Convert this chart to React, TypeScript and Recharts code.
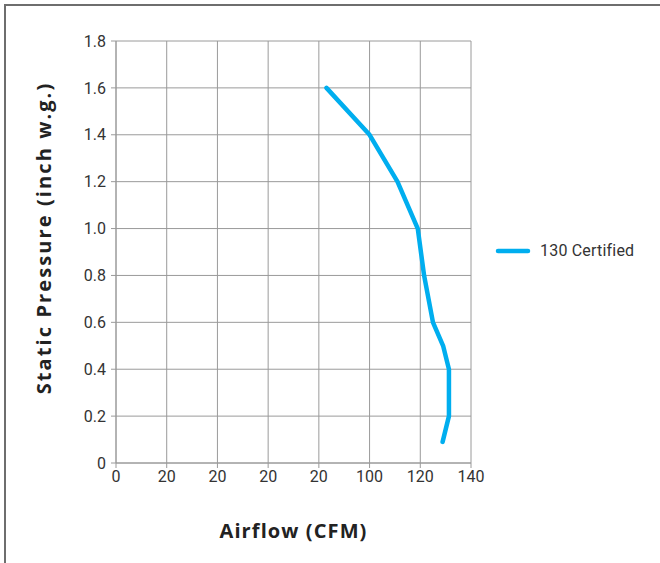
import { CartesianGrid, Legend, Line, LineChart, XAxis, YAxis } from 'recharts';

// airflow (CFM), top to bottom
const airflow = [83, 100, 111, 119, 121.5, 125, 129, 131.3, 131.3, 128.8];
const staticPressure = [1.6, 1.4, 1.2, 1.0, 0.8, 0.6, 0.5, 0.4, 0.2, 0.09];

const xTicks = [0, 20, 40, 60, 80, 100, 120, 140];
// labels as printed in the source chart
const xTickLabels = ['0', '20', '20', '20', '20', '100', '120', '140'];
const yTicks = [0, 0.2, 0.4, 0.6, 0.8, 1.0, 1.2, 1.4, 1.6, 1.8];
const yTickLabels = ['0', '0.2', '0.4', '0.6', '0.8', '1.0', '1.2', '1.4', '1.6', '1.8'];

const seriesName = '130 Certified';
const lineColor = '#00AEEF';
const gridColor = '#9a9a9a';

const data = airflow.map((cfm, i) => ({ cfm, sp: staticPressure[i] }));

const tickStyle = { fontSize: 16, fill: '#333', fontFamily: 'Roboto' };
const titleStyle = { fontSize: 20, fontWeight: 700, fill: '#222', fontFamily: '"Open Sans"' };

const YTitle = ({ viewBox }: any) => {
  const cx = viewBox.x + 43;
  const cy = viewBox.y + viewBox.height / 2 - 14;
  return (
    <text
      x={cx}
      y={cy}
      transform={`rotate(-90 ${cx} ${cy})`}
      textAnchor="middle"
      dominantBaseline="central"
      style={{ ...titleStyle, letterSpacing: 2.1 }}
    >
      Static Pressure (inch w.g.)
    </text>
  );
};

const LegendBox = () => (
  <div style={{ display: 'flex', alignItems: 'center', fontFamily: 'Roboto', fontSize: 16, letterSpacing: 0.2, color: '#333' }}>
    <svg width={36} height={8} style={{ marginRight: 9 }}>
      <line x1={3} y1={4} x2={33} y2={4} stroke={lineColor} strokeWidth={4.5} strokeLinecap="round" />
    </svg>
    <span>{seriesName}</span>
  </div>
);

const App = () => {
  return (
    <div style={{ position: 'absolute', left: 0, top: 0, width: 660, height: 563, background: '#fff', overflow: 'hidden' }}>
      <div
        style={{
          position: 'absolute',
          left: 4,
          top: 4,
          width: 700,
          height: 600,
          borderTop: '2px solid #6e6e6e',
          borderLeft: '2px solid #6e6e6e',
        }}
      />
      <LineChart
        width={660}
        height={563}
        data={data}
        margin={{ top: 41, right: 189, bottom: 0, left: 0 }}
        style={{ position: 'absolute', left: 0, top: 0 }}
      >
        <CartesianGrid stroke={gridColor} strokeWidth={1} />
        <XAxis
          type="number"
          dataKey="cfm"
          domain={[0, 140]}
          ticks={xTicks}
          tickFormatter={(v: number) => xTickLabels[xTicks.indexOf(v)] ?? String(v)}
          stroke={gridColor}
          tick={tickStyle}
          tickSize={5}
          tickMargin={3}
          height={100}
          label={{ value: 'Airflow (CFM)', position: 'insideTop', offset: 61, style: { ...titleStyle, letterSpacing: 1.1 } }}
        />
        <YAxis
          type="number"
          dataKey="sp"
          domain={[0, 1.8]}
          ticks={yTicks}
          tickFormatter={(v: number) => yTickLabels[yTicks.indexOf(v)] ?? String(v)}
          stroke={gridColor}
          tick={tickStyle}
          tickSize={5}
          tickMargin={5}
          width={116}
          label={<YTitle />}
        />
        <Legend
          layout="vertical"
          align="center"
          verticalAlign="middle"
          content={<LegendBox />}
          wrapperStyle={{ left: 495, top: 241, width: 165 }}
        />
        <Line
          name={seriesName}
          type="linear"
          dataKey="sp"
          stroke={lineColor}
          strokeWidth={4.5}
          strokeLinecap="round"
          strokeLinejoin="round"
          dot={false}
          activeDot={false}
          isAnimationActive={false}
        />
      </LineChart>
    </div>
  );
};

export default App;
